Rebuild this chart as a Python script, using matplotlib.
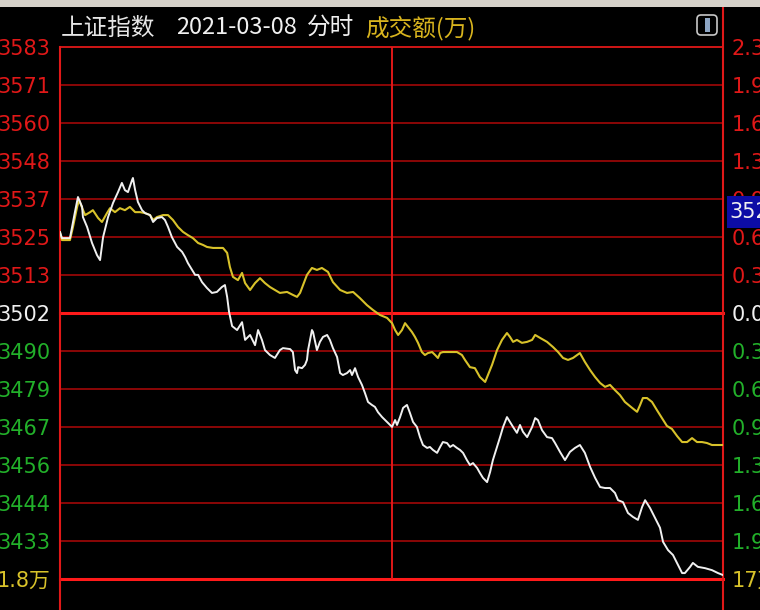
import matplotlib
matplotlib.use("Agg")
import matplotlib.pyplot as plt
from matplotlib.patches import Rectangle, FancyBboxPatch

# ---------------- data ----------------
prev_close = 3501.99
step = 11.57

left_labels = ["3583", "3571", "3560", "3548", "3537", "3525", "3513", "3502",
               "3490", "3479", "3467", "3456", "3444", "3433", "1.8万"]
right_labels = ["2.31%", "1.98%", "1.65%", "1.32%", "0.99%", "0.66%", "0.33%", "0.00%",
                "0.33%", "0.66%", "0.99%", "1.32%", "1.65%", "1.98%", "17万"]
level_k = [7, 6, 5, 4, 3, 2, 1, 0, -1, -2, -3, -4, -5, -6, -7]

# minutes since 9:30 (0..240) and index price
white_t = [0, 0.7, 3.6, 5.4, 6.5, 8.0, 8.3, 9.8, 11.6, 13.4, 14.5, 15.6, 17.4, 19.2, 21.0,
           22.4, 23.5, 24.6, 26.1, 26.4, 27.2, 28.2, 29.7, 30.8, 32.6, 33.7, 35.1, 36.9,
           38.0, 39.1, 40.5, 42.4, 44.2, 45.3, 46.3, 47.8, 48.9, 50.0, 51.4, 53.2, 55.0,
           56.8, 58.6, 59.7, 60.5, 61.2, 62.3, 64.1, 65.9, 67.0, 68.8, 70.6, 71.7, 73.1,
           74.2, 76.0, 77.8, 79.6, 80.7, 83.3, 84.3, 85.1, 85.8, 86.2, 87.6, 88.7, 89.4,
           89.8, 91.2, 91.6, 93.0, 94.1, 95.2, 96.7, 97.7, 98.8, 100.3, 101.4, 102.4,
           103.9, 105.0, 105.7, 106.8, 107.9, 109.3, 110.4, 111.5, 112.9, 114.0, 115.1,
           116.6, 118.4, 120.2, 121.3, 122.0, 123.1, 124.2, 125.6, 126.7, 127.8, 129.2,
           130.3, 131.4, 132.9, 133.9, 135.0, 136.5, 137.6, 138.6, 140.1, 141.2, 142.3,
           143.7, 144.8, 145.9, 147.3, 148.4, 149.5, 151.0, 152.0, 153.1, 154.6, 155.7,
           156.7, 158.2, 159.3, 160.4, 161.8, 162.9, 164.0, 165.4, 166.5, 167.6, 169.1,
           170.9, 172.0, 173.0, 174.5, 176.3, 178.1, 179.2, 181.0, 182.8, 184.6, 186.4,
           188.2, 190.0, 191.9, 193.7, 195.5, 197.3, 199.1, 200.9, 202.0, 203.8, 205.6,
           207.4, 209.2, 210.7, 211.8, 213.6, 215.4, 217.2, 218.3, 220.1, 221.9, 223.7,
           225.2, 226.2, 228.1, 229.1, 230.9, 233.5, 236.0, 238.2, 240.0]
white_p = [3526.6, 3524.8, 3524.8, 3532.7, 3537.3, 3534.3, 3531.2, 3528.2, 3523.3, 3519.6,
           3518.1, 3525.1, 3531.2, 3535.5, 3538.8, 3541.6, 3539.4, 3538.8, 3542.5, 3543.1,
           3539.4, 3535.8, 3533.3, 3532.4, 3531.8, 3529.7, 3530.9, 3531.2, 3530.3, 3528.2,
           3525.1, 3522.1, 3520.6, 3519.0, 3517.2, 3515.1, 3513.6, 3513.6, 3511.4, 3509.6,
           3508.1, 3508.4, 3509.9, 3510.5, 3506.9, 3502.3, 3498.0, 3496.8, 3499.2, 3493.8,
           3495.3, 3492.2, 3496.8, 3493.8, 3490.7, 3489.2, 3488.3, 3490.7, 3491.3, 3491.0,
           3490.1, 3484.6, 3483.7, 3485.5, 3485.2, 3486.2, 3487.7, 3490.7, 3496.8, 3496.2,
           3490.7, 3493.2, 3494.7, 3495.3, 3493.8, 3491.3, 3488.6, 3483.7, 3483.1, 3483.7,
           3484.6, 3483.1, 3485.2, 3482.5, 3480.1, 3477.6, 3474.9, 3474.0, 3473.4, 3471.8,
           3470.3, 3468.8, 3467.3, 3469.4, 3467.9, 3470.3, 3473.1, 3474.0, 3471.5, 3468.8,
           3467.3, 3464.2, 3461.8, 3460.9, 3461.2, 3460.3, 3459.4, 3461.2, 3462.7, 3462.4,
           3461.2, 3461.8, 3460.9, 3460.3, 3459.4, 3457.2, 3455.7, 3456.3, 3454.8, 3453.3,
           3451.8, 3450.5, 3453.6, 3457.2, 3461.2, 3464.2, 3467.3, 3470.3, 3468.8, 3467.3,
           3465.5, 3467.9, 3465.8, 3464.2, 3467.3, 3470.0, 3469.4, 3466.3, 3464.2, 3463.9,
           3462.4, 3459.7, 3457.2, 3459.7, 3460.9, 3461.8, 3459.4, 3455.1, 3451.8, 3449.0,
           3448.7, 3448.7, 3447.2, 3445.0, 3444.4, 3441.1, 3439.9, 3439.0, 3442.9, 3445.0,
           3442.6, 3439.6, 3436.6, 3432.3, 3429.8, 3428.3, 3425.3, 3422.8, 3422.8, 3424.7,
           3425.9, 3424.7, 3424.3, 3423.7, 3422.8, 3422.2]

yellow_t = [0, 0.7, 3.6, 4.7, 6.2, 6.9, 8.0, 9.1, 10.9, 11.9, 13.8, 15.2, 17.0, 18.1, 19.9,
            21.7, 23.5, 25.3, 27.2, 29.0, 30.8, 32.6, 33.7, 35.1, 37.3, 39.1, 40.9, 42.7,
            44.5, 46.3, 48.1, 50.0, 51.8, 53.2, 55.4, 57.2, 59.0, 60.5, 61.5, 62.6, 64.4,
            65.9, 67.0, 68.8, 70.6, 72.4, 74.2, 76.0, 77.8, 79.6, 82.2, 84.3, 85.8, 86.9,
            89.4, 91.2, 93.0, 94.8, 97.0, 98.8, 101.4, 103.9, 106.1, 108.6, 111.1, 113.3,
            115.8, 118.4, 120.2, 121.3, 122.4, 123.8, 124.9, 126.0, 127.4, 128.5, 129.6,
            131.0, 132.1, 133.2, 134.7, 135.8, 136.8, 137.6, 138.6, 141.2, 143.7, 145.5,
            146.6, 148.4, 150.2, 152.0, 153.9, 154.9, 156.4, 158.2, 160.0, 161.8, 162.9,
            164.0, 165.4, 167.2, 169.1, 170.9, 172.0, 173.8, 176.3, 178.5, 180.3, 182.1,
            183.9, 185.7, 188.2, 190.0, 191.9, 193.7, 195.5, 197.3, 199.1, 200.9, 202.7,
            204.5, 207.1, 208.9, 210.0, 211.0, 212.5, 214.3, 216.1, 217.9, 219.7, 221.5,
            223.4, 225.2, 227.0, 228.8, 230.6, 232.4, 234.2, 236.0, 237.8, 240.0]
yellow_p = [3526.6, 3524.2, 3524.2, 3528.2, 3534.3, 3536.4, 3534.0, 3531.8, 3532.7, 3533.3,
            3530.9, 3529.7, 3532.4, 3533.9, 3532.7, 3533.9, 3533.3, 3534.3, 3532.7, 3532.7,
            3532.4, 3531.8, 3530.3, 3531.2, 3531.8, 3531.8, 3530.3, 3528.2, 3526.7, 3525.7,
            3524.8, 3523.3, 3522.7, 3522.1, 3521.8, 3521.8, 3521.8, 3520.3, 3516.0, 3513.0,
            3512.0, 3514.2, 3511.1, 3509.0, 3511.1, 3512.6, 3511.1, 3509.9, 3509.0, 3508.1,
            3508.4, 3507.5, 3506.9, 3508.1, 3513.6, 3515.7, 3515.1, 3515.7, 3514.5, 3511.4,
            3509.0, 3508.1, 3508.4, 3506.5, 3504.4, 3502.9, 3501.4, 3500.5, 3498.9, 3496.8,
            3495.3, 3496.8, 3498.9, 3497.7, 3496.2, 3494.7, 3492.9, 3490.1, 3489.2, 3489.8,
            3490.1, 3489.2, 3488.3, 3489.8, 3490.1, 3490.1, 3490.1, 3489.2, 3487.7, 3485.5,
            3485.2, 3482.5, 3481.0, 3483.1, 3486.2, 3490.7, 3493.8, 3495.9, 3494.7, 3493.2,
            3493.8, 3492.9, 3493.2, 3493.8, 3495.3, 3494.4, 3493.2, 3491.6, 3490.1, 3488.3,
            3487.7, 3488.3, 3489.8, 3487.1, 3484.6, 3482.5, 3480.7, 3479.5, 3480.1, 3478.5,
            3477.0, 3474.9, 3473.1, 3471.9, 3474.0, 3476.1, 3476.1, 3474.9, 3472.4, 3470.0,
            3467.6, 3466.7, 3464.5, 3462.7, 3462.7, 3463.9, 3462.7, 3462.7, 3462.4, 3461.8,
            3461.8, 3461.8]

# ---------------- style ----------------
BG = "#000000"
RED = "#e01818"
DARKRED = "#b00808"
GREEN = "#22b02a"
YELLOW = "#d8c22a"
WHITE = "#f0f0f0"

W, H = 760, 610
fig = plt.figure(figsize=(W / 100, H / 100), dpi=100, facecolor=BG)

# plot area in pixels: x 60..723, y 47..579 (from top)
x0, x1, y0, y1 = 60, 723, 47, 579
ax = fig.add_axes([x0 / W, (H - y1) / H, (x1 - x0) / W, (y1 - y0) / H])
ax.set_facecolor(BG)
for s in ax.spines.values():
    s.set_visible(False)

levels = [prev_close + k * step for k in level_k]
ax.set_xlim(0, 240)
ax.set_ylim(prev_close - 7 * step, prev_close + 7 * step)

# horizontal grid lines
for k, lv in zip(level_k, levels):
    if k == 0 or k == -7:
        ax.axhline(lv, color="#ff1a1a", lw=2.2, zorder=1, clip_on=False)
    elif k == 7:
        ax.axhline(lv, color=RED, lw=1.3, zorder=1, clip_on=False)
    else:
        ax.axhline(lv, color=DARKRED, lw=1.1, zorder=1)

# vertical lines
ext_bot = -(H - y1) / (y1 - y0)
ax.axvline(0, ymin=ext_bot, ymax=1, color=RED, lw=1.5, clip_on=False, zorder=1)
ax.axvline(240, ymin=ext_bot, ymax=(y1 - 6) / (y1 - y0), color=RED, lw=1.5, clip_on=False, zorder=1)
ax.axvline(120, color=RED, lw=1.4, zorder=1)

# series
ax.plot(yellow_t, yellow_p, color=YELLOW, lw=1.5, zorder=3, solid_joinstyle="round")
ax.plot(white_t, white_p, color=WHITE, lw=1.4, zorder=4, solid_joinstyle="round")

# left tick labels
label_colors = []
for k in level_k:
    if k > 0:
        label_colors.append(RED)
    elif k == 0:
        label_colors.append(WHITE)
    elif k == -7:
        label_colors.append(YELLOW)
    else:
        label_colors.append(GREEN)

ax.set_xticks([])
ax.set_yticks(levels)
ax.set_yticklabels(left_labels, fontsize=15, family=["DejaVu Sans", "Noto Sans CJK SC"])
ax.tick_params(axis="y", length=0, pad=7)
for t, c in zip(ax.get_yticklabels(), label_colors):
    t.set_color(c)

ax2 = ax.twinx()
for s in ax2.spines.values():
    s.set_visible(False)
ax2.set_ylim(ax.get_ylim())
ax2.set_yticks(levels)
ax2.set_yticklabels(right_labels, fontsize=15, family=["DejaVu Sans", "Noto Sans CJK SC"])
ax2.tick_params(axis="y", length=0, pad=6)
for t, c in zip(ax2.get_yticklabels(), label_colors):
    t.set_color(c)

# top gray strip
fig.add_artist(Rectangle((0, (H - 7) / H), 1, 7 / H, transform=fig.transFigure,
                         facecolor="#d6d2ca", edgecolor="none", zorder=10))

# title
cjk = ["Noto Sans CJK SC", "DejaVu Sans"]
ty = 1 - 28 / H
fig.text(61 / W, ty, "上证指数", color="#e6e6e6", fontsize=17, family=cjk, va="center", ha="left")
fig.text(176 / W, ty, "2021-03-08", color=WHITE, fontsize=17, family=cjk, va="center", ha="left")
fig.text(307 / W, ty, "分时", color=WHITE, fontsize=17, family=cjk, va="center", ha="left")
fig.text(365 / W, ty, "成交额(万)", color="#d8b41e", fontsize=17, family=cjk, va="center", ha="left")

# top-right icon
fig.add_artist(FancyBboxPatch((6.97, (H - 35) / 100), 0.20, 0.20,
                              boxstyle="round,pad=0,rounding_size=0.04",
                              transform=fig.dpi_scale_trans, facecolor="none",
                              edgecolor="#c8c8c8", lw=1.2, zorder=10))
fig.add_artist(Rectangle((7.05, (H - 32) / 100), 0.05, 0.14, transform=fig.dpi_scale_trans,
                         facecolor="#8ea6c4", edgecolor="none", zorder=11))

# blue price box on the right
fig.add_artist(Rectangle((727 / 100, (H - 228) / 100), 0.5, 0.32, transform=fig.dpi_scale_trans,
                         facecolor="#0c0ca6", edgecolor="none", zorder=10))
fig.text(729 / W, 1 - 212 / H, "3528.43", color=WHITE, fontsize=15, va="center", ha="left",
         zorder=11)

# partially visible labels of the panel below
fig.text(51 / W, -13 / H, "1.2万", color=YELLOW, fontsize=15, family=["DejaVu Sans", "Noto Sans CJK SC"],
         va="center", ha="right")
fig.text(731 / W, -13 / H, "1.2万", color=WHITE, fontsize=15, family=["DejaVu Sans", "Noto Sans CJK SC"],
         va="center", ha="left")

fig.savefig("out.png", dpi=100, facecolor=BG)
